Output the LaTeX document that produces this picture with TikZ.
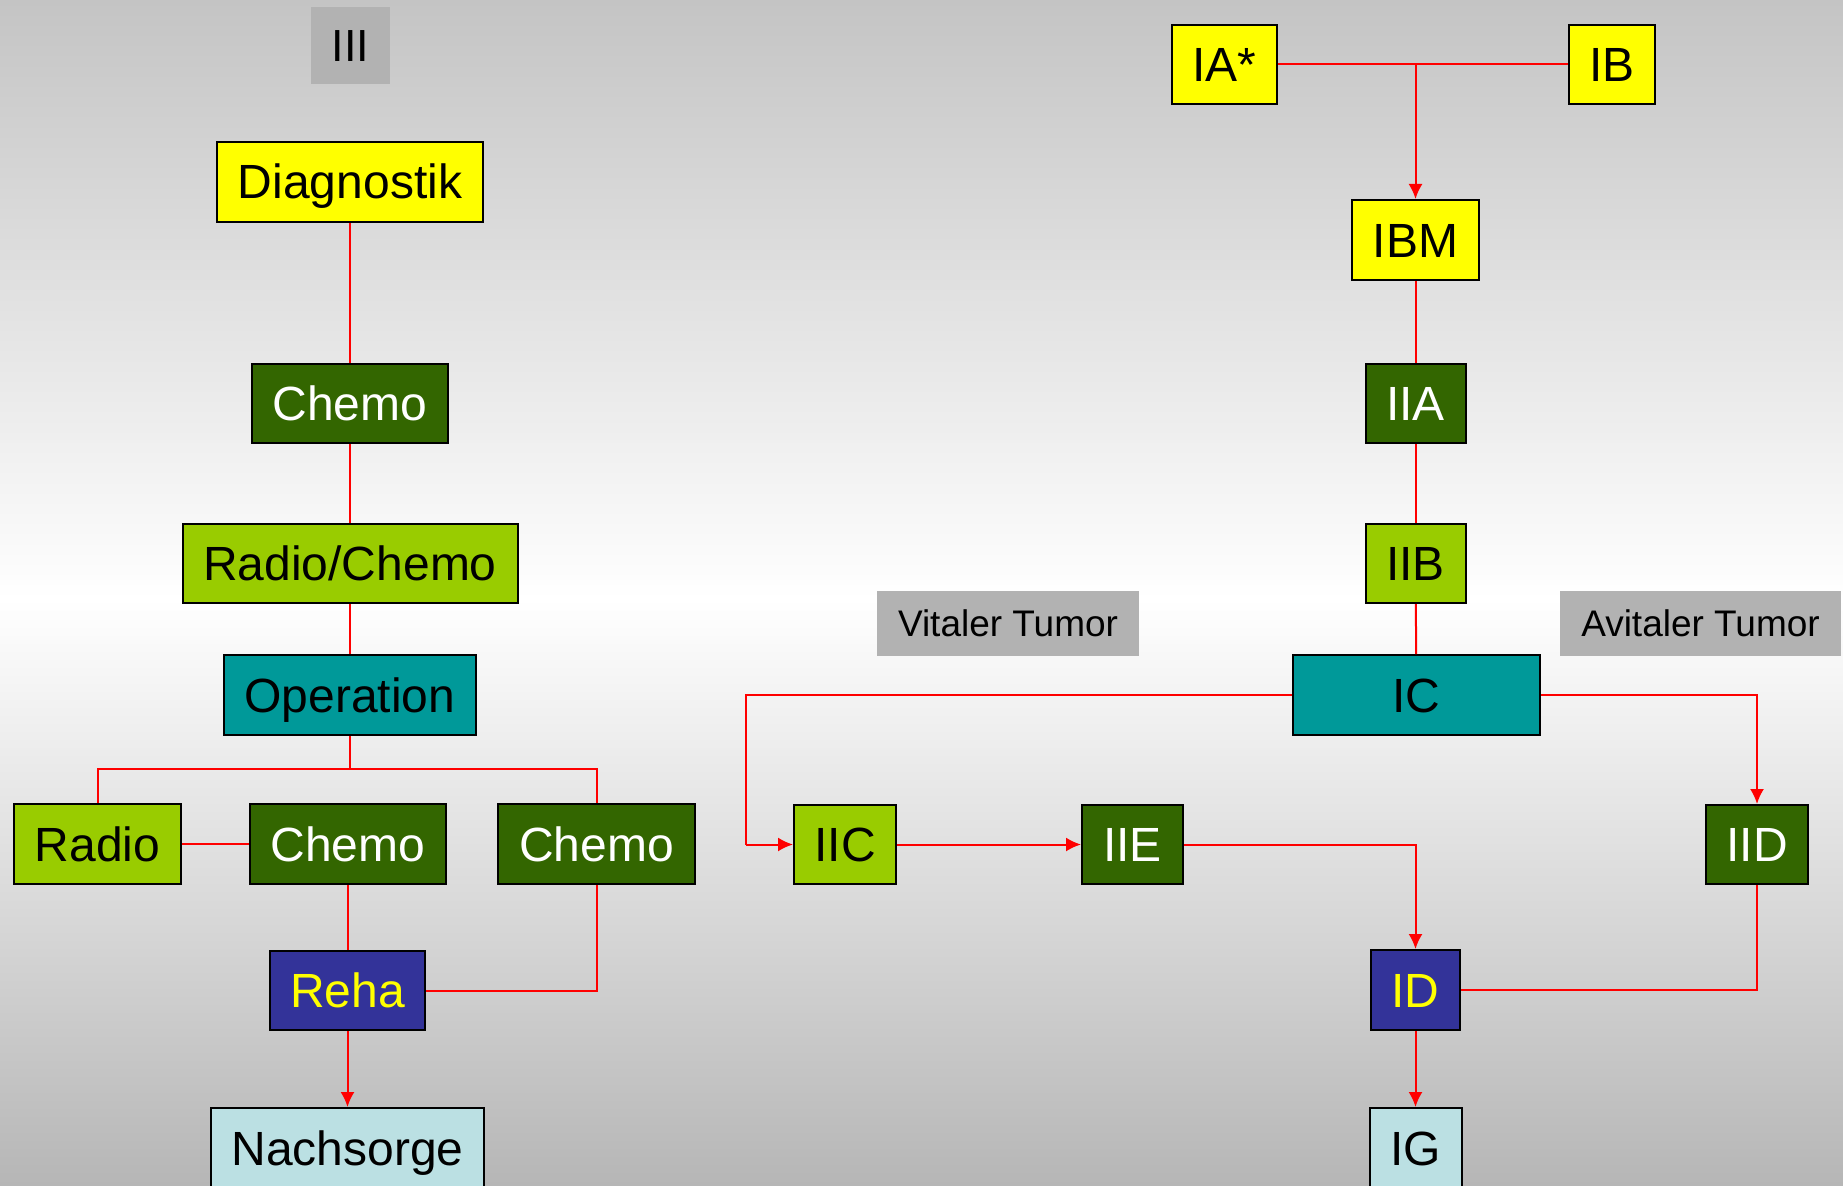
\documentclass[tikz,border=0pt]{standalone}
\usepackage{fontspec}
\setmainfont{Liberation Sans}
\usetikzlibrary{arrows.meta}

\definecolor{bgtop}{HTML}{C4C4C4}
\definecolor{bgbottom}{HTML}{B6B6B6}
\definecolor{cyellow}{HTML}{FFFF00}
\definecolor{cdark}{HTML}{336600}
\definecolor{clight}{HTML}{99CC00}
\definecolor{cteal}{HTML}{009999}
\definecolor{cnavy}{HTML}{333399}
\definecolor{cpale}{HTML}{BBE0E3}
\definecolor{clabel}{HTML}{B2B2B2}
\definecolor{cline}{HTML}{FF0000}

\tikzset{
  box/.style={draw=black, line width=2pt, inner sep=0pt, text height=34pt, text depth=0pt,
    font=\fontsize{48}{56}\selectfont},
  yel/.style={box, fill=cyellow, text=black},
  dgr/.style={box, fill=cdark, text=white},
  lgr/.style={box, fill=clight, text=black},
  tea/.style={box, fill=cteal, text=black},
  nav/.style={box, fill=cnavy, text=cyellow},
  pal/.style={box, fill=cpale, text=black},
  tag/.style={fill=clabel, inner sep=0pt, text=black, text height=26.5pt, text depth=0pt,
    font=\fontsize{37}{44}\selectfont},
  link/.style={draw=cline, line width=2pt},
  flow/.style={link, -{Latex[length=15pt,width=14pt]}},
}

\begin{document}
\begin{tikzpicture}[x=1pt,y=-1pt]
  % background gradient: gray - white - gray
  \useasboundingbox (0,0) rectangle (1843,1185);
  \shade[top color=bgtop, bottom color=white] (0,0) rectangle (1843,600);
  \shade[top color=white, bottom color=bgbottom] (0,599) rectangle (1843,1185);

  % ---------- left column: stage III ----------
  \node[tag, minimum width=79pt, minimum height=77pt, text height=32pt,
        font=\fontsize{45}{52}\selectfont] (III) at (350.5,45.5) {III};
  \node[yel, minimum width=266pt, minimum height=80pt] (diag) at (350,182) {Diagnostik};
  \node[dgr, minimum width=196pt, minimum height=79pt] (chemoA) at (350,403.5) {Chemo};
  \node[lgr, minimum width=335pt, minimum height=79pt] (radchem) at (350,563.5) {Radio/Chemo};
  \node[tea, minimum width=252pt, minimum height=80pt] (op) at (350,695) {Operation};
  \node[lgr, minimum width=167pt, minimum height=80pt] (radio) at (97.5,844) {Radio};
  \node[dgr, minimum width=196pt, minimum height=80pt] (chemoB) at (348,844) {Chemo};
  \node[dgr, minimum width=197pt, minimum height=80pt] (chemoC) at (596.5,844) {Chemo};
  \node[nav, minimum width=155pt, minimum height=79pt] (reha) at (347.5,990.5) {Reha};
  \node[pal, minimum width=273pt, minimum height=80pt] (nach) at (347.5,1148) {Nachsorge};

  \coordinate (split) at (350,769);

  \draw[link] (diag) -- (chemoA);
  \draw[link] (chemoA) -- (radchem);
  \draw[link] (radchem) -- (op);
  \draw[link] (op.south) -- (split);
  \draw[link] (radio.north) |- (split) -| (chemoC.north);
  \draw[link] (radio.east) -- (chemoB.west);
  \draw[link] (reha.north |- chemoB.south) -- (reha.north);
  \draw[link] (chemoC.south) |- (reha.east);
  \draw[flow] (reha.south) -- (nach.north);

  % ---------- right column: stages I and II ----------
  \node[yel, minimum width=105pt, minimum height=79pt] (IA) at (1224.5,64.5) {IA*};
  \node[yel, minimum width=86pt, minimum height=79pt] (IB) at (1612,64.5) {IB};
  \node[yel, minimum width=127pt, minimum height=80pt] (IBM) at (1415.5,240) {IBM};
  \node[dgr, minimum width=100pt, minimum height=79pt] (IIA) at (1415.5,403.5) {IIA};
  \node[lgr, minimum width=100pt, minimum height=79pt] (IIB) at (1415.5,563.5) {IIB};
  \node[tag, minimum width=262pt, minimum height=65pt] (vital) at (1008,623.5) {Vitaler Tumor};
  \node[tag, minimum width=281pt, minimum height=65pt] (avital) at (1700.5,623.5) {Avitaler Tumor};
  \node[tea, minimum width=247pt, minimum height=80pt] (IC) at (1416.5,695) {IC};
  \node[lgr, minimum width=102pt, minimum height=79pt] (IIC) at (845,844.5) {IIC};
  \node[dgr, minimum width=101pt, minimum height=79pt] (IIE) at (1132.5,844.5) {IIE};
  \node[dgr, minimum width=102pt, minimum height=79pt] (IID) at (1757,844.5) {IID};
  \node[nav, minimum width=89pt, minimum height=80pt] (ID) at (1415.5,990) {ID};
  \node[pal, minimum width=92pt, minimum height=80pt] (IG) at (1415.5,1148) {IG};

  \coordinate (join) at (IBM.north |- IA.east);
  \coordinate (bendL) at (746,844.5);

  \draw[link] (IA.east) -- (IB.west);
  \draw[flow] (join) -- (IBM.north);
  \draw[link] (IBM) -- (IIA);
  \draw[link] (IIA) -- (IIB);
  \draw[link] (IIB) -- (IC);
  \draw[link] (IC.west) -| (bendL);
  \draw[flow] (bendL) -- (IIC.west);
  \draw[flow] (IIC.east) -- (IIE.west);
  \draw[flow] (IIE.east) -| (ID.north);
  \draw[flow] (IC.east) -| (IID.north);
  \draw[link] (IID.south) |- (ID.east);
  \draw[flow] (ID.south) -- (IG.north);
\end{tikzpicture}
\end{document}
